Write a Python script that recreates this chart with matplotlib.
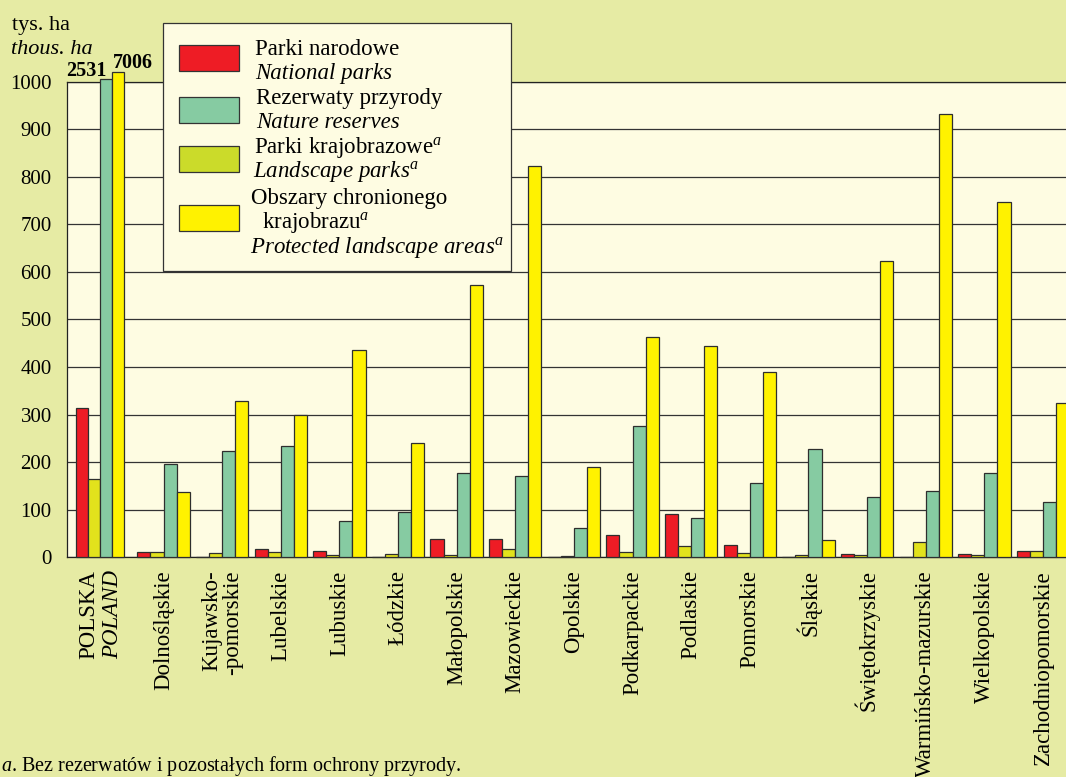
import numpy as np
import matplotlib
matplotlib.use("Agg")
import matplotlib.pyplot as plt
from matplotlib.patches import Rectangle

plt.rcParams['font.family'] = ['Liberation Serif', 'DejaVu Serif']
plt.rcParams['mathtext.fontset'] = 'custom'
plt.rcParams['mathtext.rm'] = 'Liberation Serif'
plt.rcParams['mathtext.it'] = 'Liberation Serif:italic'
plt.rcParams['mathtext.bf'] = 'Liberation Serif:bold'

# ---------------- data (thousand ha) ----------------
regions = ["POLSKA", "Dolnośląskie", "Kujawsko-\n-pomorskie", "Lubelskie", "Lubuskie",
           "Łódzkie", "Małopolskie", "Mazowieckie", "Opolskie", "Podkarpackie",
           "Podlaskie", "Pomorskie", "Śląskie", "Świętokrzyskie",
           "Warmińsko-mazurskie", "Wielkopolskie", "Zachodniopomorskie"]
national_parks = [314, 11, 0, 17.5, 14, 0, 38, 38, 0, 46, 92, 25, 0, 7.7, 0, 7.7, 14]
second_series = [165, 11, 8.5, 10.5, 4, 6, 4, 17.5, 2, 10.5, 23, 8, 4, 4, 31.5, 4, 12.6]
third_series = [2531, 196, 224, 233, 76, 95, 177, 170, 62, 276, 83, 156, 228, 126, 139, 178, 116]
protected_landscape = [7006, 138, 329, 299, 435, 240, 572, 823, 190, 464, 444, 390, 36, 623, 933, 748, 324]
yticks = list(range(0, 1001, 100))

# ---------------- style ----------------
BG = '#e6eba4'
PLOT_BG = '#fefce2'
RED = '#ee1c25'
YG_BAR = '#e2e21c'
YG_LEG = '#cbdb2a'
TEAL = '#86cba2'
YELLOW = '#fff200'
EDGE = '#2e2e2e'

W, H = 1066, 777
fig = plt.figure(figsize=(W / 100, H / 100), dpi=100, facecolor=BG)


def fx(px):
    return px / W


def fy(py):
    return 1 - py / H


ax = fig.add_axes([fx(67), fy(557.3), 999 / W, 475.6 / H])
ax.set_facecolor(PLOT_BG)

n = len(regions)
xpos = np.arange(n, dtype=float)
xpos[0] = -0.08
widths = np.full(n, 0.2234)
widths[0] = 0.206

series = [(national_parks, RED, 1e9),
          (second_series, YG_BAR, 1e9),
          (third_series, TEAL, 1006),
          (protected_landscape, YELLOW, 1020)]
for k, (vals, col, cap) in enumerate(series):
    h = np.minimum(np.asarray(vals, dtype=float), cap)
    left = xpos - 2 * widths + k * widths
    bars = ax.bar(left, h, width=widths, align='edge', color=col,
                  edgecolor=EDGE, linewidth=0.9, zorder=3)
    for b in bars:
        b.set_clip_on(False)

ax.text(xpos[0] + widths[0] * 0.55, 1011, f"{third_series[0]}", ha='right', va='baseline',
        fontsize=14.5, fontweight='bold', zorder=5)
ax.text(xpos[0] + widths[0] * 1.05, 1029, f"{protected_landscape[0]}", ha='left', va='baseline',
        fontsize=14.5, fontweight='bold', zorder=5)

ax.set_xlim(-0.646, 16.393)
ax.set_ylim(0, 1000)
ax.set_yticks(yticks)
ax.set_yticklabels([str(t) for t in yticks], fontsize=15)
ax.tick_params(axis='y', length=0, pad=11)
ax.set_xticks([])
ax.yaxis.grid(True, color='#333333', linewidth=0.9)
ax.set_axisbelow(True)
for s in ['left', 'top', 'bottom']:
    ax.spines[s].set_color('#222222')
    ax.spines[s].set_linewidth(0.9)
ax.spines['right'].set_visible(False)

# x labels
trans = ax.get_xaxis_transform()
ylab = -13 / 475.6
for i, r in enumerate(regions):
    if i == 0:
        ax.text(xpos[0] - 0.2, ylab, "POLSKA", rotation=90, ha='center', va='top',
                fontsize=16.5, transform=trans)
        ax.text(xpos[0] + 0.21, ylab, "POLAND", rotation=90, ha='center', va='top',
                fontsize=16.5, style='italic', transform=trans)
    else:
        ax.text(xpos[i], ylab, r, rotation=90, ha='center', va='top',
                multialignment='right', fontsize=16.5, transform=trans,
                linespacing=0.95)

# y unit label
fig.text(fx(12), fy(30), "tys. ha", fontsize=16, va='baseline')
fig.text(fx(11), fy(54), "thous. ha", fontsize=16, style='italic', va='baseline')

# legend
fig.add_artist(Rectangle((fx(163), fy(271)), (511 - 163) / W, (271 - 23) / H,
                         transform=fig.transFigure, facecolor=PLOT_BG,
                         edgecolor='#333333', linewidth=0.9, zorder=10))
patches = [(RED, 44.7, 71), (TEAL, 96.7, 123), (YG_LEG, 146, 172), (YELLOW, 205, 231)]
for col, y0, y1 in patches:
    fig.add_artist(Rectangle((fx(179), fy(y1)), 60 / W, (y1 - y0) / H,
                             transform=fig.transFigure, facecolor=col,
                             edgecolor='#333333', linewidth=0.9, zorder=11))
leg_lines = [
    (255, 55, "Parki narodowe", 'normal'),
    (255, 78.5, "National parks", 'italic'),
    (256, 104, "Rezerwaty przyrody", 'normal'),
    (256, 128, "Nature reserves", 'italic'),
    (254, 153, "Parki krajobrazowe$^{a}$", 'normal'),
    (253, 177, "Landscape parks$^{a}$", 'italic'),
    (251, 204, "Obszary chronionego", 'normal'),
    (262, 228, "krajobrazu$^{a}$", 'normal'),
    (250, 253, "Protected landscape areas$^{a}$", 'italic'),
]
for x, y, t, st in leg_lines:
    fig.text(fx(x), fy(y), t, fontsize=16.5, style=st, va='baseline', zorder=12)

# footnote
fig.text(fx(1), fy(771), "$a$. Bez rezerwatów i pozostałych form ochrony przyrody.",
         fontsize=14.5, va='baseline')

fig.savefig("out.png", dpi=100, facecolor=BG)
